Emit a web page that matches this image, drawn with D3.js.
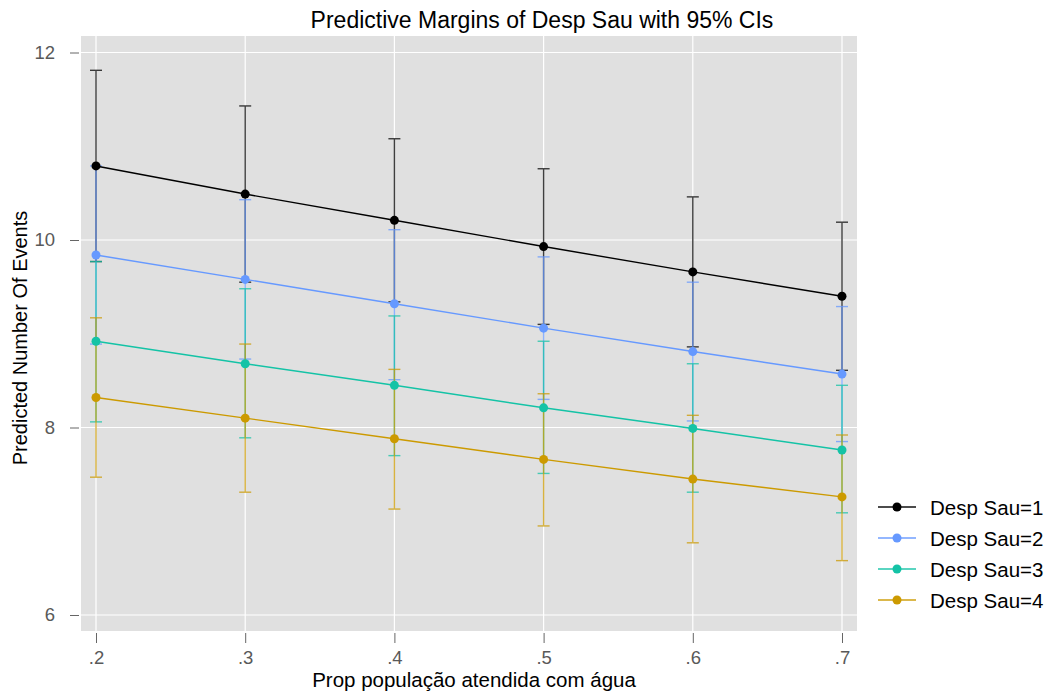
<!DOCTYPE html>
<html>
<head>
<meta charset="utf-8">
<script src="https://cdn.jsdelivr.net/npm/d3@7/dist/d3.min.js"></script>
<style>
  body { margin: 0; background: #fff; }
  text { font-family: "Liberation Sans", Arial, sans-serif; }
</style>
</head>
<body>
<script>
var W = 1048, H = 693;
var M = { left: 81, top: 36, right: 857, bottom: 631 };

var xValues = [0.2, 0.3, 0.4, 0.5, 0.6, 0.7];
var xTickLabels = ['.2', '.3', '.4', '.5', '.6', '.7'];
var yTicks = [6, 8, 10, 12];
var seriesNames = ['Desp Sau=1', 'Desp Sau=2', 'Desp Sau=3', 'Desp Sau=4'];
var seriesColors = ['#000000', '#6699ff', '#14c3a6', '#cc9a00'];

var margin1 = [10.79, 10.49, 10.21, 9.93, 9.66, 9.40];
var lower1  = [9.77, 9.55, 9.34, 9.10, 8.86, 8.61];
var upper1  = [11.81, 11.43, 11.08, 10.76, 10.46, 10.19];

var margin2 = [9.84, 9.58, 9.32, 9.06, 8.81, 8.57];
var lower2  = [8.89, 8.73, 8.51, 8.30, 8.07, 7.85];
var upper2  = [10.79, 10.43, 10.11, 9.82, 9.55, 9.29];

var margin3 = [8.92, 8.68, 8.45, 8.21, 7.99, 7.76];
var lower3  = [8.06, 7.89, 7.70, 7.51, 7.31, 7.09];
var upper3  = [9.77, 9.48, 9.19, 8.92, 8.68, 8.45];

var margin4 = [8.32, 8.10, 7.88, 7.66, 7.45, 7.26];
var lower4  = [7.47, 7.31, 7.13, 6.95, 6.77, 6.58];
var upper4  = [9.17, 8.89, 8.62, 8.36, 8.13, 7.92];

var margins = [margin1, margin2, margin3, margin4];
var lowers = [lower1, lower2, lower3, lower4];
var uppers = [upper1, upper2, upper3, upper4];

var x = d3.scaleLinear().domain([0.2, 0.7]).range([96, 842]);
var y = d3.scaleLinear().domain([6, 12]).range([615, 52.5]);

var svg = d3.select('body').append('svg')
    .attr('width', W)
    .attr('height', H);

svg.append('rect')
    .attr('x', M.left)
    .attr('y', M.top)
    .attr('width', M.right - M.left)
    .attr('height', M.bottom - M.top)
    .attr('fill', '#e0e0e0');

// grid
svg.selectAll('.gridX').data(xValues).enter().append('line')
    .attr('x1', function (d) { return x(d); })
    .attr('x2', function (d) { return x(d); })
    .attr('y1', M.top).attr('y2', M.bottom)
    .attr('stroke', '#fff').attr('stroke-width', 1.2);
svg.selectAll('.gridY').data(yTicks).enter().append('line')
    .attr('y1', function (d) { return y(d); })
    .attr('y2', function (d) { return y(d); })
    .attr('x1', M.left).attr('x2', M.right)
    .attr('stroke', '#fff').attr('stroke-width', 1.2);

// axes
var yAxis = svg.append('g')
    .attr('transform', 'translate(' + (M.left - 1) + ',0)')
    .call(d3.axisLeft(y).tickValues(yTicks).tickSize(10).tickPadding(15)
        .tickFormat(d3.format('d')));
var xAxis = svg.append('g')
    .attr('transform', 'translate(0,' + (M.bottom + 2) + ')')
    .call(d3.axisBottom(x).tickValues(xValues).tickSize(10).tickPadding(8)
        .tickFormat(function (d, i) { return xTickLabels[i]; }));
yAxis.select('.domain').remove();
xAxis.select('.domain').remove();
yAxis.selectAll('.tick line').attr('x1', -1).attr('x2', -10).attr('stroke', '#666');
xAxis.selectAll('.tick line').attr('stroke', '#666');
svg.selectAll('.tick text')
    .attr('font-size', null)
    .style('font-size', '18.5px')
    .style('font-family', '"Liberation Sans", Arial, sans-serif')
    .attr('fill', '#595959');

// error bars
var CAP = 6;
margins.forEach(function (m, s) {
    var g = svg.append('g').attr('stroke', seriesColors[s]).attr('opacity', 0.75)
        .attr('stroke-width', 1.4);
    g.selectAll('line.v').data(xValues).enter().append('line')
        .attr('x1', function (d) { return x(d); })
        .attr('x2', function (d) { return x(d); })
        .attr('y1', function (d, i) { return y(lowers[s][i]); })
        .attr('y2', function (d, i) { return y(uppers[s][i]); });
    [lowers[s], uppers[s]].forEach(function (arr) {
        g.selectAll(null).data(xValues).enter().append('line')
            .attr('x1', function (d) { return x(d) - CAP; })
            .attr('x2', function (d) { return x(d) + CAP; })
            .attr('y1', function (d, i) { return y(arr[i]); })
            .attr('y2', function (d, i) { return y(arr[i]); });
    });
});

// lines and points
var line = d3.line()
    .x(function (d, i) { return x(xValues[i]); })
    .y(function (d) { return y(d); });
for (var s = margins.length - 1; s >= 0; s--) {
    svg.append('path')
        .datum(margins[s])
        .attr('d', line)
        .attr('fill', 'none')
        .attr('stroke', seriesColors[s])
        .attr('stroke-width', 1.4);
    svg.selectAll(null).data(margins[s]).enter().append('circle')
        .attr('cx', function (d, i) { return x(xValues[i]); })
        .attr('cy', function (d) { return y(d); })
        .attr('r', 4.5)
        .attr('fill', seriesColors[s]);
}

// titles
svg.append('text')
    .attr('x', 542).attr('y', 28)
    .attr('text-anchor', 'middle')
    .style('font-size', '23px')
    .text('Predictive Margins of Desp Sau with 95% CIs');
svg.append('text')
    .attr('x', 474).attr('y', 687)
    .attr('text-anchor', 'middle')
    .style('font-size', '20.5px')
    .text('Prop população atendida com água');
svg.append('text')
    .attr('transform', 'translate(27,338) rotate(-90)')
    .attr('text-anchor', 'middle')
    .style('font-size', '20px')
    .text('Predicted Number Of Events');

// legend
var legend = svg.selectAll('.legend').data(seriesNames).enter().append('g')
    .attr('transform', function (d, i) { return 'translate(878,' + (507 + i * 31) + ')'; });
legend.append('line')
    .attr('x1', 0).attr('x2', 38).attr('y1', 0).attr('y2', 0)
    .attr('stroke', function (d, i) { return seriesColors[i]; })
    .attr('stroke-opacity', 0.7)
    .attr('stroke-width', 2);
legend.append('circle')
    .attr('cx', 19).attr('cy', 0).attr('r', 4.5)
    .attr('fill', function (d, i) { return seriesColors[i]; });
legend.append('text')
    .attr('x', 52).attr('y', 7.5)
    .style('font-size', '20.5px')
    .text(function (d) { return d; });
</script>
</body>
</html>
